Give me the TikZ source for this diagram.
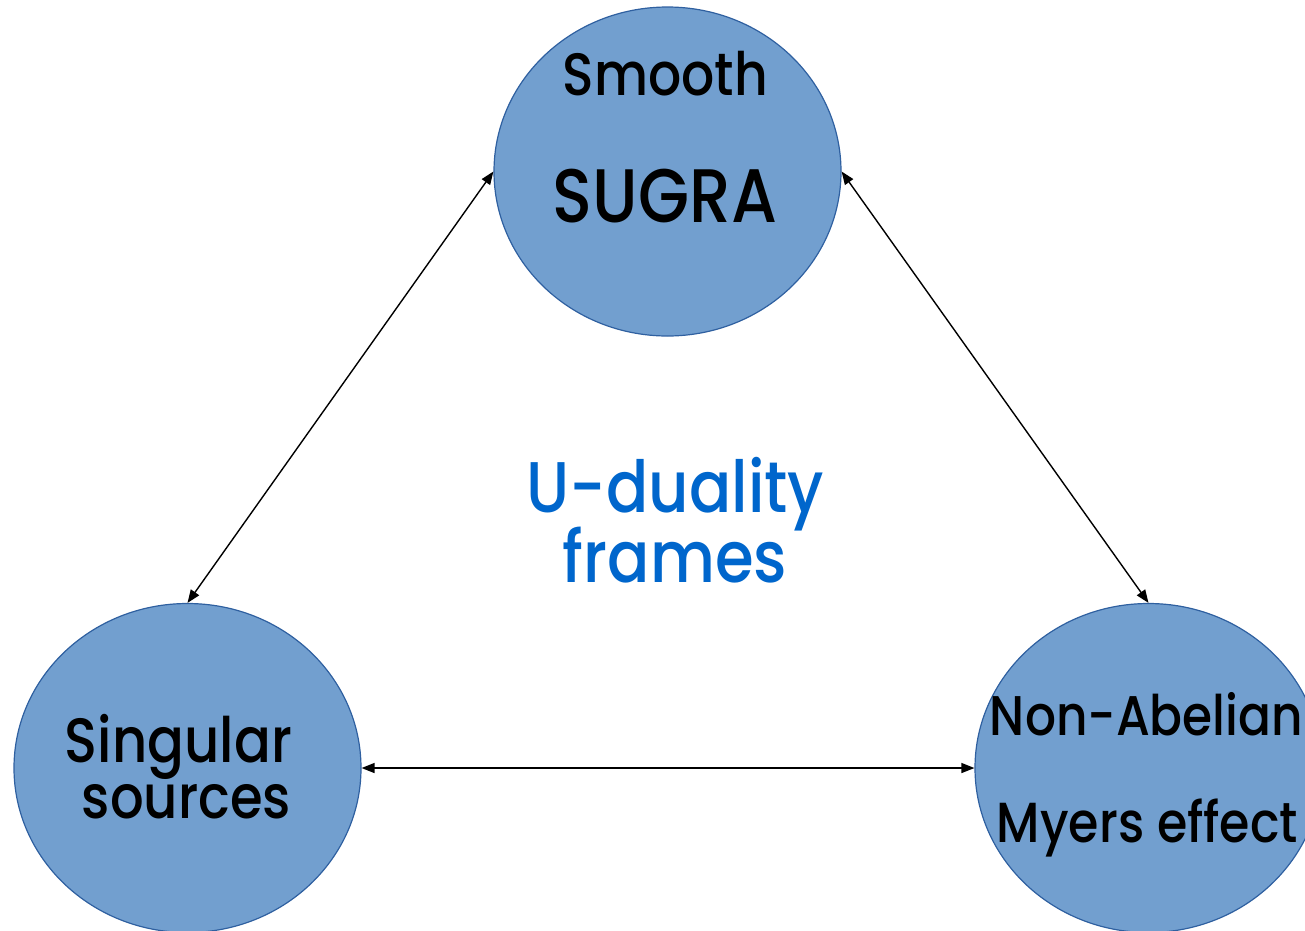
\documentclass[tikz,border=0pt]{standalone}
\usepackage{fontspec}
\setmainfont{Poppins Medium}
\usetikzlibrary{shapes.geometric,arrows.meta}
\definecolor{bubble}{RGB}{114,159,207}
\definecolor{bubbleedge}{RGB}{47,96,160}
\definecolor{ublue}{RGB}{0,102,204}
\newcommand{\fitw}[2]{\resizebox{#1}{!}{\scalebox{1}[1.15]{#2}}}
\tikzset{
  bubblenode/.style={ellipse, draw=bubbleedge, line width=1.2pt, fill=bubble,
    minimum width=347pt, minimum height=329pt, inner sep=0pt},
  link/.style={arrows={Triangle[length=13pt,width=10pt]-Triangle[length=13pt,width=10pt]}, line width=1.4pt, black},
  lbl/.style={anchor=base, inner sep=0pt, text=black},
  ulbl/.style={anchor=base, inner sep=0pt, text=ublue}
}
\begin{document}
\begin{tikzpicture}[x=1pt,y=-1pt]
\useasboundingbox (0,0) rectangle (1305,930);
\begin{scope}
\clip (0,0) rectangle (1305,930);
\node[bubblenode] (top) at (667.5,171.5) {};
\node[bubblenode] (left) at (187.5,768) {};
\node[bubblenode] (right) at (1148.5,768) {};
\end{scope}
\draw[link] (top.west) -- (left.north);
\draw[link] (top.east) -- (right.north);
\draw[link] (left.east) -- (right.west);
\node[lbl] (t1) at (665.5,95) {\fitw{205pt}{Smooth}};
\node[lbl] (t2) at (665,222) {\fitw{224pt}{SUGRA}};
\node[lbl] (r1) at (1146.5,735) {\fitw{313pt}{Non-Abelian}};
\node[lbl] (r2) at (1147.5,842) {\fitw{301pt}{Myers effect}};
\node[lbl] (l1) at (178.5,762) {\fitw{227pt}{Singular}};
\node[lbl] (l2) at (186.5,818) {\fitw{209pt}{sources}};
\node[ulbl] (u1) at (675.5,512) {\fitw{297pt}{U-duality}};
\node[ulbl] (u2) at (675,582) {\fitw{224pt}{frames}};
\end{tikzpicture}
\end{document}
